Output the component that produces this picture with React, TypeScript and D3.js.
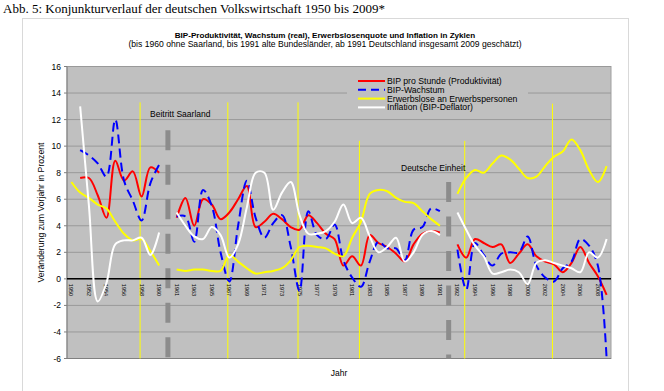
import React from 'react';
import * as d3 from 'd3';

// Jahre je Abschnitt (bis 1960 ohne Saarland, bis 1991 alte Länder, ab 1992 Gesamtdeutschland)
const yearsA = [1950, 1951, 1952, 1953, 1954, 1955, 1956, 1957, 1958, 1959, 1960];
const yearsB = [1961, 1962, 1963, 1964, 1965, 1966, 1967, 1968, 1969, 1970, 1971, 1972, 1973, 1974, 1975, 1976,
  1977, 1978, 1979, 1980, 1981, 1982, 1983, 1984, 1985, 1986, 1987, 1988, 1989, 1990, 1991];
const yearsC = [1992, 1993, 1994, 1995, 1996, 1997, 1998, 1999, 2000, 2001, 2002, 2003, 2004, 2005, 2006, 2007,
  2008, 2009];

// BIP pro Stunde (Produktivität)
const productivityA = [null, 7.6, 7.6, 6.3, 4.6, 8.9, 7.4, 8.1, 6.2, 8.4, 8.0];
const productivityB = [4.6, 6.1, 4.0, 6.0, 5.6, 4.5, 5.0, 6.0, 7.0, 3.9, 4.3, 4.9, 4.5, 3.9, 3.7, 4.8,
  4.2, 3.4, 3.0, 1.0, 1.7, 1.0, 3.3, 2.7, 2.4, 1.9, 1.3, 2.6, 3.4, 3.6, 3.5];
const productivityC = [2.6, 1.6, 3.0, 2.7, 2.4, 2.6, 1.2, 1.9, 2.6, 1.7, 1.3, 1.1, 0.5, 1.2, 2.4, 1.2,
  0.2, -1.2];

// BIP-Wachstum (real)
const growthA = [null, 9.7, 9.3, 8.7, 7.7, 12.0, 7.4, 5.9, 4.4, 7.2, 8.6];
const growthB = [4.7, 4.7, 2.8, 6.7, 5.5, 2.0, -0.2, 4.0, 7.4, 4.6, 3.1, 4.2, 4.8, 2.4, -0.9, 5.1,
  3.3, 3.0, 4.1, 1.4, 0.1, -0.6, 1.3, 2.8, 2.3, 2.3, 1.4, 3.7, 3.9, 5.3, 5.1];
const growthC = [2.2, -0.8, 2.7, 1.8, 1.0, 1.9, 2.0, 2.0, 3.2, 1.0, 0.1, -0.2, 0.8, 1.3, 3.0, 2.5,
  1.0, -6.0];

// Erwerbslose an Erwerbspersonen
const unemploymentA = [7.3, 6.5, 6.1, 5.6, 5.3, 4.3, 3.4, 2.9, 3.0, 2.1, 1.0];
const unemploymentB = [0.7, 0.6, 0.7, 0.7, 0.6, 0.6, 1.8, 1.3, 0.8, 0.4, 0.5, 0.6, 0.8, 1.4, 2.4, 2.5,
  2.4, 2.3, 1.9, 1.7, 3.1, 4.3, 6.4, 6.7, 6.6, 6.1, 5.8, 5.7, 5.1, 4.5, 4.0];
const unemploymentC = [6.4, 7.6, 8.2, 8.0, 8.7, 9.3, 9.0, 8.3, 7.6, 7.7, 8.5, 9.2, 9.6, 10.5, 9.7, 8.2,
  7.3, 8.5];

// Inflation (BIP-Deflator)
const inflationA = [null, 13.0, 5.5, -1.7, -0.3, 2.6, 2.9, 2.9, 3.1, 1.8, 3.5];
const inflationB = [5.0, 4.0, 3.2, 3.0, 3.9, 3.3, 1.6, 2.6, 5.4, 8.0, 8.0, 5.2, 6.5, 7.3, 4.8, 3.4,
  3.4, 3.6, 4.3, 5.6, 4.2, 4.6, 3.2, 2.0, 2.4, 3.1, 1.3, 2.0, 3.3, 3.6, 3.3];
const inflationC = [5.0, 3.7, 2.5, 1.7, 0.4, 0.5, 0.7, 0.5, -0.4, 1.2, 1.4, 1.2, 1.0, 0.8, 0.5, 2.0,
  1.6, 3.0];

const yTicks = [-6, -4, -2, 0, 2, 4, 6, 8, 10, 12, 14, 16];

// Zyklusmarken (gelbe Linien) und ihre Oberkante in Prozent
const cycleYears = ['1958', '1967', '1975', '1982', '1993', '2003'];
const cycleTops = [13.3, 13.3, 13.3, 10.4, 10.4, 13.2];
// Gestrichelte Trenner in den Leerkategorien
const breakTops = [11.2, 7.3];

const legendNames = ['BIP pro Stunde (Produktivität)', 'BIP-Wachstum', 'Erwerbslose an Erwerbspersonen', 'Inflation (BIP-Deflator)'];

const join = (a: (number | null)[], b: (number | null)[], c: (number | null)[]) => [...a, null, ...b, null, ...c];

const categories = [...yearsA.map(String), '', ...yearsB.map(String), '', ...yearsC.map(String)];
const series = [
  { values: join(productivityA, productivityB, productivityC), color: '#FF0000', dash: null },
  { values: join(growthA, growthB, growthC), color: '#0000FF', dash: '9,5' },
  { values: join(unemploymentA, unemploymentB, unemploymentC), color: '#FFFF00', dash: null },
  { values: join(inflationA, inflationB, inflationC), color: '#FFFFFF', dash: null },
];

const W = 664, H = 391;
const left = 67, right = 611, top = 66.5, bottom = 358.5;
const sans = 'Liberation Sans, Arial, sans-serif';

export default function App() {
  const idx = categories.map((_, i) => i);
  const x = d3.scaleBand<number>().domain(idx).range([left, right]);
  const bw = x.bandwidth();
  const cx = (i: number) => (x(i) as number) + bw / 2;
  const y = d3.scaleLinear().domain([-6, 16]).range([bottom, top]);

  const line = d3.line<number | null>()
    .defined(d => d != null)
    .x((_, i) => cx(i))
    .y(d => y(d as number))
    .curve(d3.curveCatmullRom.alpha(0.5));

  const blanks = idx.filter(i => categories[i] === '');

  return (
    <svg width={W} height={H} style={{ position: 'absolute', left: 0, top: 0, background: '#fff' }}>
      <text x={3} y={13} fontFamily="Liberation Serif, Times New Roman, serif" fontSize={13}>
        Abb. 5: Konjunkturverlauf der deutschen Volkswirtschaft 1950 bis 2009*
      </text>
      <rect x={22.5} y={18.5} width={606} height={400} fill="#fff" stroke="#d9d9d9" />

      <text x={325} y={38.3} textAnchor="middle" fontFamily={sans} fontSize={8.1} fontWeight="bold">
        BIP-Produktivität, Wachstum (real), Erwerbslosenquote und Inflation in Zyklen
      </text>
      <text x={325} y={46.8} textAnchor="middle" fontFamily={sans} fontSize={8.6}>
        (bis 1960 ohne Saarland, bis 1991 alte Bundesländer, ab 1991 Deutschland insgesamt 2009 geschätzt)
      </text>

      {/* plot area */}
      <rect x={left} y={top} width={right - left} height={bottom - top} fill="#C0C0C0" stroke="#a0a0a0" />
      {yTicks.map(t => (
        <line key={t} x1={left} x2={right} y1={y(t)} y2={y(t)} stroke="#999" strokeWidth={1} />
      ))}
      <line x1={left} x2={left} y1={top} y2={bottom} stroke="#808080" />
      <line x1={left} x2={right} y1={bottom} y2={bottom} stroke="#808080" />
      {yTicks.map(t => (
        <g key={'yl' + t}>
          <line x1={left - 3} x2={left} y1={y(t)} y2={y(t)} stroke="#808080" />
          <text x={61} y={y(t) + 3} textAnchor="end" fontFamily={sans} fontSize={8.5}>{t}</text>
        </g>
      ))}

      {/* legend box */}
      <rect x={347} y={74} width={181} height={39} fill="#C0C0C0" />

      {/* cycle markers */}
      {cycleYears.map((yr, k) => {
        const i = categories.indexOf(yr);
        return <line key={yr} x1={cx(i) - 1.5} x2={cx(i) - 1.5} y1={y(cycleTops[k])} y2={bottom} stroke="#FFFF00" strokeWidth={1} />;
      })}
      {/* breaks between periods */}
      {blanks.map((i, k) => (
        <line key={'b' + i} x1={cx(i)} x2={cx(i)} y1={y(breakTops[k])} y2={bottom} stroke="#8c8c8c" strokeWidth={5} strokeDasharray="20,14.5" />
      ))}

      {/* zero axis */}
      <line x1={left} x2={right} y1={y(0)} y2={y(0)} stroke="#000" strokeWidth={1.5} />
      {idx.filter(i => i % 2 === 0 && categories[i] !== '').map(i => (
        <text key={'xl' + i} transform={`translate(${cx(i) - 2},${y(0) + 5}) rotate(90)`} fontFamily={sans} fontSize={5.5}>
          {categories[i]}
        </text>
      ))}

      {series.map((s, k) => (
        <path key={k} d={line(s.values) || ''} fill="none" stroke={s.color} strokeWidth={2}
          strokeDasharray={s.dash || undefined} />
      ))}

      <text x={150} y={116.5} fontFamily={sans} fontSize={8.5}>Beitritt Saarland</text>
      <text x={401} y={171} fontFamily={sans} fontSize={8.5}>Deutsche Einheit</text>

      {series.map((s, k) => (
        <g key={'lg' + k}>
          <line x1={358} x2={385} y1={81 + k * 8.8} y2={81 + k * 8.8} stroke={s.color} strokeWidth={2}
            strokeDasharray={s.dash ? '8,5' : undefined} />
          <text x={387} y={84 + k * 8.8} fontFamily={sans} fontSize={8.7}>{legendNames[k]}</text>
        </g>
      ))}

      <text transform={`translate(44,${(top + bottom) / 2}) rotate(-90)`} textAnchor="middle" fontFamily={sans} fontSize={8.7}>
        Veränderung zum Vorjahr in Prozent
      </text>
      <text x={(left + right) / 2} y={375.5} textAnchor="middle" fontFamily={sans} fontSize={8.5}>Jahr</text>
    </svg>
  );
}
